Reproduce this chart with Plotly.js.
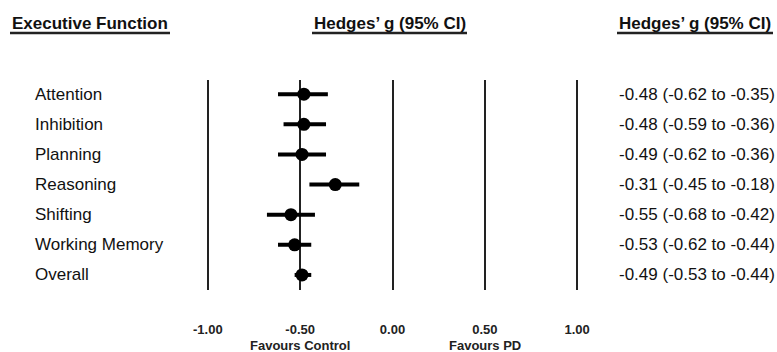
<!DOCTYPE html>
<html><head><meta charset="utf-8">
<script src="https://cdn.plot.ly/plotly-3.0.1.min.js"></script>
<style>html,body{margin:0;padding:0;background:#fff}#c{width:777px;height:352px}</style>
</head><body><div id="c"></div>
<script>
const categories = ["Attention","Inhibition","Planning","Reasoning","Shifting","Working Memory","Overall"];
const g  = [-0.48,-0.48,-0.49,-0.31,-0.55,-0.53,-0.49];
const lo = [-0.62,-0.59,-0.62,-0.45,-0.68,-0.62,-0.53];
const hi = [-0.35,-0.36,-0.36,-0.18,-0.42,-0.44,-0.44];
const tickVals = [-1,-0.5,0,0.5,1];
const tickLabels = ["-1.00","-0.50","0.00","0.50","1.00"];
const favourLabels = ["Favours Control","Favours PD"];
const favourPos = [-0.5,0.5];
const headers = ["Executive Function","Hedges’ g (95% CI)","Hedges’ g (95% CI)"];

const W=777, L=206, R=198, T=80, B=62, H=352;
const pw=W-L-R, ph=H-T-B;
const px = x => (x-L)/pw;
const py = y => (H-B-y)/ph;
const FONT = "Arial, 'Liberation Sans', sans-serif";
const fmt = v => v.toFixed(2);

const yIdx = categories.map((c,i)=>i);
const trace = {
  type:'scatter', mode:'markers', x:g, y:yIdx,
  marker:{color:'#000', size:13},
  error_x:{type:'data', symmetric:false,
    array:g.map((v,i)=>hi[i]-v), arrayminus:g.map((v,i)=>v-lo[i]),
    color:'#000', thickness:4, width:0},
  hoverinfo:'skip', showlegend:false
};

const ann = [];
categories.forEach((c,i)=>{
  ann.push({xref:'paper', yref:'y', x:px(33), y:i, xanchor:'left', yanchor:'middle',
    text:c, showarrow:false, font:{family:FONT, size:17, color:'#111'}});
  ann.push({xref:'paper', yref:'y', x:px(617), y:i, xanchor:'left', yanchor:'middle',
    text:fmt(g[i])+" ("+fmt(lo[i])+" to "+fmt(hi[i])+")", showarrow:false,
    font:{family:FONT, size:17, color:'#111'}});
});
favourLabels.forEach((t,i)=>{
  ann.push({xref:'x', yref:'paper', x:favourPos[i], y:py(345), xanchor:'center', yanchor:'middle',
    text:'<b>'+t+'</b>', showarrow:false, font:{family:FONT, size:13, color:'#222'}});
});
const hx = [[10,170],[312,467],[617,773]];
const shapes = [];
headers.forEach((t,i)=>{
  ann.push({xref:'paper', yref:'paper', x:px(hx[i][0]), y:py(23), xanchor:'left', yanchor:'middle',
    text:'<b>'+t+'</b>', showarrow:false, font:{family:FONT, size:17, color:'#111'}});
  shapes.push({type:'line', xref:'paper', yref:'paper', x0:px(hx[i][0]), x1:px(hx[i][1]),
    y0:py(33), y1:py(33), line:{color:'#222', width:2.5}});
});

const layout = {
  width:W, height:H, margin:{l:L, r:R, t:T, b:B},
  paper_bgcolor:'#fff', plot_bgcolor:'#fff',
  xaxis:{range:[-1.01,1.01], tickvals:tickVals, ticktext:tickLabels, showgrid:true,
    gridcolor:'#222', gridwidth:2, zeroline:false, showline:false, ticks:'',
    ticklabelstandoff:30, tickfont:{family:FONT, size:13, color:'#222', weight:'bold'}, fixedrange:true},
  yaxis:{range:[6.5,-0.47], showgrid:false, zeroline:false, showticklabels:false, ticks:'', fixedrange:true},
  annotations:ann, shapes:shapes, showlegend:false
};
Plotly.newPlot('c',[trace],layout,{displayModeBar:false, staticPlot:true});
</script></body></html>
